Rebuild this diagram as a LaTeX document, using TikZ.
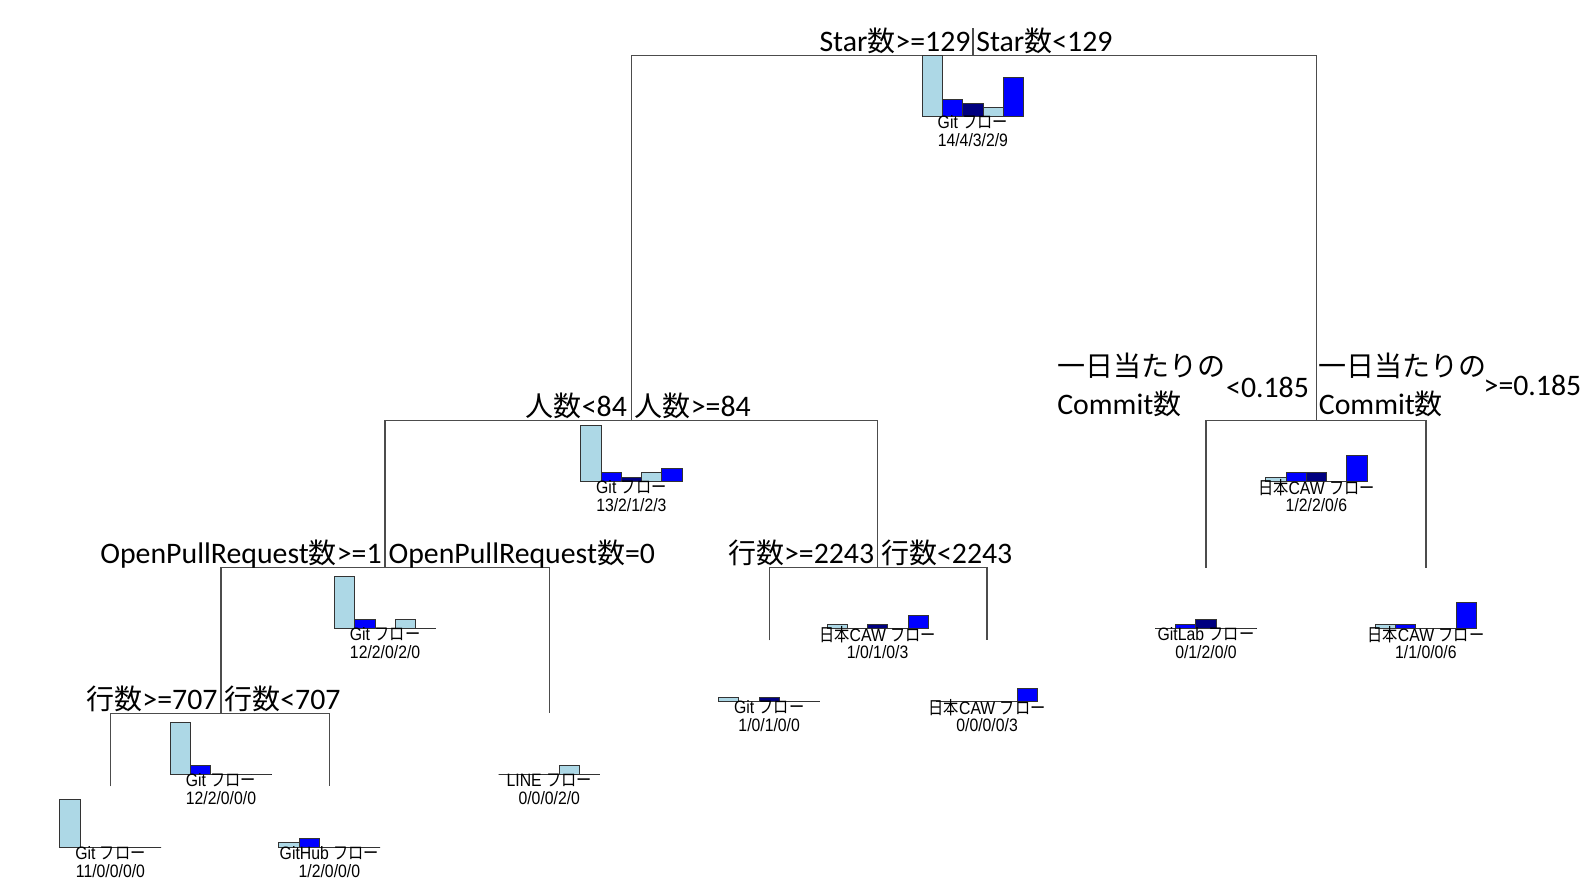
\documentclass[tikz,border=0pt]{standalone}
\usepackage{fontspec}
\setmainfont{Carlito}
\newfontfamily\jpfont{Noto Sans CJK JP}[Scale=0.94]
\newfontfamily\smallfont{Liberation Sans}[FakeStretch=0.88]
\newfontfamily\smalljp{Noto Sans CJK JP}[FakeStretch=0.85]
\usetikzlibrary{positioning}
\definecolor{lightblue}{HTML}{ADD8E6}
\definecolor{navyblue}{HTML}{000080}
\colorlet{barcol1}{lightblue}
\colorlet{barcol2}{blue}
\colorlet{barcol3}{navyblue}
\colorlet{barcol4}{lightblue}
\colorlet{barcol5}{blue}

\tikzset{
  branch/.style={draw=black!70, line width=0.65pt},
  barbox/.style={draw=black!80, line width=0.45pt},
  splitlabel/.style={inner sep=0pt, font=\fontsize{14.7}{18.5}\selectfont},
  classlabel/.style={inner sep=0pt, font=\smallfont\fontsize{8.85}{10}\selectfont},
}

% bars + class + counts under a tree node
\newcommand{\distbars}[4]{%
  \begin{scope}[shift={(#1)}]
    \draw[black, line width=0.5pt] (-50,60) -- (50,60);
    \foreach \c [count=\i] in {#2}
      \draw[barbox, fill=barcol\i] ({-50+20*(\i-1)},60) rectangle ++(20,{-4.27*\c});
    \node[classlabel] (#1-cls) at (0,66) {#3};
    \node[classlabel] (#1-cnt) at (0,83.5) {#4};
  \end{scope}}

\begin{document}
\begin{tikzpicture}[x=0.5pt, y=-0.5pt]
    \useasboundingbox (0,0) rectangle (1566,871);

    \coordinate (n1top) at (960,28);
    \coordinate (n1) at (960,55);
    \coordinate (n2) at (623,415);
    \coordinate (n3) at (1299,415);
    \coordinate (n4) at (380,560);
    \coordinate (n5) at (866,560);
    \coordinate (n6) at (1190,560);
    \coordinate (n7) at (1407,560);
    \coordinate (n8) at (218,704);
    \coordinate (n9) at (542,704);
    \coordinate (n10) at (759,632);
    \coordinate (n11) at (974,632);
    \coordinate (n12) at (109,776);
    \coordinate (n13) at (325,776);

    % branches
    \draw[branch] (n1top) -- (n1);
    \draw[branch] (n2) |- (n1) -| (n3);
    \draw[branch] (n4) |- (n2) -| (n5);
    \draw[branch] (n6) |- (n3) -| (n7);
    \draw[branch] (n8) |- (n4) -| (n9);
    \draw[branch] (n10) |- (n5) -| (n11);
    \draw[branch] (n12) |- (n8) -| (n13);

    % split labels
    \node[splitlabel, anchor=base east, xshift=-1pt, yshift=2pt] (s1l) at (n1) {Star{\jpfont 数}>=129};
    \node[splitlabel, anchor=base west, xshift=1.5pt, yshift=2pt] (s1r) at (n1) {Star{\jpfont 数}<129};
    \node[splitlabel, anchor=base east, xshift=-2pt, yshift=2pt] (s2l) at (n2) {{\jpfont 人数}<84};
    \node[splitlabel, anchor=base west, xshift=1.5pt, yshift=2pt] (s2r) at (n2) {{\jpfont 人数}>=84};
    \node[splitlabel, anchor=base east, xshift=-1.5pt, yshift=2pt] (s4l) at (n4) {OpenPullRequest{\jpfont 数}>=1};
    \node[splitlabel, anchor=base west, xshift=1.5pt, yshift=2pt] (s4r) at (n4) {OpenPullRequest{\jpfont 数}=0};
    \node[splitlabel, anchor=base east, xshift=-1.5pt, yshift=2pt] (s5l) at (n5) {{\jpfont 行数}>=2243};
    \node[splitlabel, anchor=base west, xshift=1.5pt, yshift=2pt] (s5r) at (n5) {{\jpfont 行数}<2243};
    \node[splitlabel, anchor=base east, xshift=-1.5pt, yshift=2pt] (s8l) at (n8) {{\jpfont 行数}>=707};
    \node[splitlabel, anchor=base west, xshift=1.5pt, yshift=2pt] (s8r) at (n8) {{\jpfont 行数}<707};

    \node[splitlabel, anchor=base east, xshift=-3.5pt, yshift=11.5pt] (s3lv) at (n3) {<0.185};
    \node[splitlabel, align=left, anchor=base east, yshift=-8.5pt] (s3lt) at (s3lv.base west) {{\jpfont 一日当たりの}\\Commit{\jpfont 数}};
    \node[splitlabel, align=left, anchor=base west, xshift=1pt, yshift=3pt] (s3rt) at (n3) {{\jpfont 一日当たりの}\\Commit{\jpfont 数}};
    \node[splitlabel, anchor=base west, xshift=-2pt, yshift=9.5pt] (s3rv) at (s3rt.base east) {>=0.185};

    % distributions
    \distbars{n1}{14,4,3,2,9}{Git {\smalljp フロー}}{14/4/3/2/9}
    \distbars{n2}{13,2,1,2,3}{Git {\smalljp フロー}}{13/2/1/2/3}
    \distbars{n3}{1,2,2,0,6}{{\smalljp 日本}CAW {\smalljp フロー}}{1/2/2/0/6}
    \distbars{n4}{12,2,0,2,0}{Git {\smalljp フロー}}{12/2/0/2/0}
    \distbars{n5}{1,0,1,0,3}{{\smalljp 日本}CAW {\smalljp フロー}}{1/0/1/0/3}
    \distbars{n6}{0,1,2,0,0}{GitLab {\smalljp フロー}}{0/1/2/0/0}
    \distbars{n7}{1,1,0,0,6}{{\smalljp 日本}CAW {\smalljp フロー}}{1/1/0/0/6}
    \distbars{n8}{12,2,0,0,0}{Git {\smalljp フロー}}{12/2/0/0/0}
    \distbars{n9}{0,0,0,2,0}{LINE {\smalljp フロー}}{0/0/0/2/0}
    \distbars{n10}{1,0,1,0,0}{Git {\smalljp フロー}}{1/0/1/0/0}
    \distbars{n11}{0,0,0,0,3}{{\smalljp 日本}CAW {\smalljp フロー}}{0/0/0/0/3}
    \distbars{n12}{11,0,0,0,0}{Git {\smalljp フロー}}{11/0/0/0/0}
    \distbars{n13}{1,2,0,0,0}{GitHub {\smalljp フロー}}{1/2/0/0/0}
\end{tikzpicture}
\end{document}
